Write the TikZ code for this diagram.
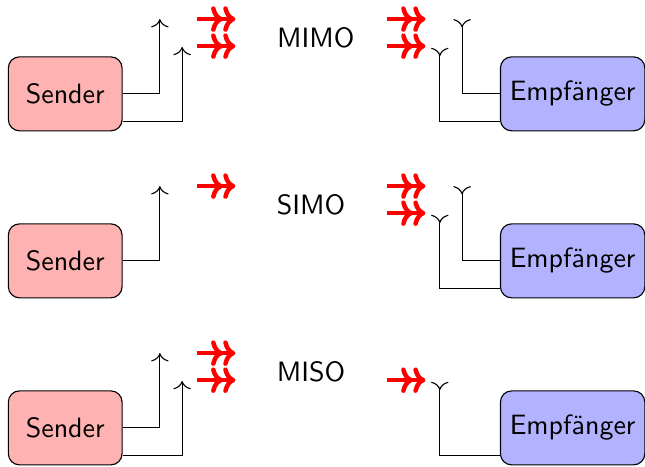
\documentclass[tikz,border=0pt]{standalone}
\usetikzlibrary{calc,arrows.meta}
\begin{document}
\begin{tikzpicture}[font=\sffamily, >={To[scale=1.2]},
          sender/.style={rectangle, draw, rounded corners, fill=red!30,
            minimum width=1.43cm, minimum height=0.93cm},
          empf/.style={rectangle, draw, rounded corners, fill=blue!30,
            minimum height=0.93cm},
          funk/.style={-{To[scale=0.85]To[scale=0.85]}, red, ultra thick}]

          \useasboundingbox (0,0) rectangle (8.11,-5.86);

          % MIMO
          \node[sender] (s1) at (0.82,-1.18) {Sender};
          \node[empf] (e1) at (7.20,-1.18) {Empfänger};
          \node (t1) at (3.97,-0.47) {MIMO};
          \coordinate (s1u) at (2.01,-0.24);
          \coordinate (s1l) at (2.29,-0.59);
          \coordinate (e1u) at (5.81,-0.24);
          \coordinate (e1l) at (5.53,-0.60);
          \draw[->] (s1.east) -| (s1u);
          \draw[->] ([yshift=-3.5mm]s1.east) -| (s1l);
          \draw[>-] (e1u) |- (e1.west);
          \draw[>-] (e1l) |- ([yshift=-3.5mm]e1.west);
          \draw[funk] (2.48,-0.24) -- (2.96,-0.24);
          \draw[funk] (2.48,-0.58) -- (2.96,-0.58);
          \draw[funk] (4.87,-0.24) -- (5.35,-0.24);
          \draw[funk] (4.87,-0.58) -- (5.35,-0.58);

          % SIMO
          \node[sender] (s2) at (0.82,-3.28) {Sender};
          \node[empf] (e2) at (7.20,-3.28) {Empfänger};
          \node (t2) at (3.91,-2.57) {SIMO};
          \coordinate (s2u) at (2.01,-2.34);
          \coordinate (e2u) at (5.81,-2.34);
          \coordinate (e2l) at (5.53,-2.70);
          \draw[->] (s2.east) -| (s2u);
          \draw[>-] (e2u) |- (e2.west);
          \draw[>-] (e2l) |- ([yshift=-3.5mm]e2.west);
          \draw[funk] (2.48,-2.34) -- (2.96,-2.34);
          \draw[funk] (4.87,-2.34) -- (5.35,-2.34);
          \draw[funk] (4.87,-2.68) -- (5.35,-2.68);

          % MISO
          \node[sender] (s3) at (0.82,-5.38) {Sender};
          \node[empf] (e3) at (7.20,-5.38) {Empfänger};
          \node (t3) at (3.91,-4.67) {MISO};
          \coordinate (s3u) at (2.01,-4.44);
          \coordinate (s3l) at (2.29,-4.79);
          \coordinate (e3l) at (5.53,-4.80);
          \draw[->] (s3.east) -| (s3u);
          \draw[->] ([yshift=-3.5mm]s3.east) -| (s3l);
          \draw[>-] (e3l) |- ([yshift=-3.5mm]e3.west);
          \draw[funk] (2.48,-4.44) -- (2.96,-4.44);
          \draw[funk] (2.48,-4.78) -- (2.96,-4.78);
          \draw[funk] (4.87,-4.78) -- (5.35,-4.78);
        \end{tikzpicture}
\end{document}
